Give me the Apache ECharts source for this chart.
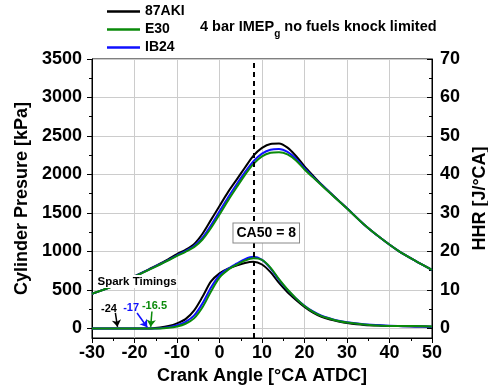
<!DOCTYPE html>
<html><head><meta charset="utf-8">
<script src="https://cdn.jsdelivr.net/npm/echarts@6/dist/echarts.min.js"></script>
<style>html,body{margin:0;padding:0;background:#fff}#c{width:488px;height:387px}</style>
</head><body><div id="c"></div>
<script>
// Crank angle [°CA ATDC]
const crank = [-30,-26,-22,-18,-16,-14,-12,-10,-8,-6,-4,-2,0,2,4,6,8,10,12,14,16,18,20,22,24,26,28,30,34,38,42,46,50];
// Cylinder pressure [kPa]
const p87AKI = [450,530,625,730,785,840,900,965,1020,1095,1230,1410,1590,1770,1930,2090,2245,2345,2397,2402,2348,2240,2105,1985,1870,1765,1662,1560,1350,1170,1010,880,760];
const pIB24  = [450,530,625,728,780,833,890,950,1005,1070,1180,1340,1520,1700,1870,2030,2172,2270,2322,2330,2293,2205,2080,1970,1865,1762,1660,1560,1350,1170,1010,880,760];
const pE30   = [450,528,622,725,777,830,885,942,995,1055,1155,1305,1480,1660,1830,1995,2138,2235,2282,2290,2262,2182,2065,1962,1860,1758,1658,1558,1350,1170,1010,880,760];
// Heat release rate [J/°CA]
const h87AKI = [0,0,0,0,0,0.2,0.6,1.3,2.4,4.6,8.2,12.2,14.3,15.5,16.3,17.0,17.3,16.6,14.6,11.8,9.4,7.4,5.6,4.1,3.0,2.3,1.8,1.4,0.9,0.7,0.6,0.5,0.4];
const hIB24  = [0,0,0,0,0,0.05,0.3,0.8,1.7,3.3,6.5,10.6,13.8,15.5,16.8,18.0,18.6,17.8,15.6,12.6,10.0,7.8,5.9,4.4,3.3,2.6,2.0,1.6,1.1,0.8,0.6,0.5,0.4];
const hE30   = [0,0,0,0,0,0,0.15,0.5,1.2,2.6,5.5,9.6,13.2,15.2,16.5,17.6,18.2,17.8,15.8,12.8,10.1,7.8,5.8,4.3,3.2,2.5,1.9,1.5,1.0,0.7,0.6,0.6,0.5];
// Axis tick labels
const xTicks = [-30,-20,-10,0,10,20,30,40,50];
const pTicks = [0,500,1000,1500,2000,2500,3000,3500];
const hTicks = [0,10,20,30,40,50,60,70];
// Annotations
const ca50 = 8;
const ca50Label = 'CA50 = 8';
const sparkNames = ['-24','-17','-16.5'];
const sparkValues = [-24,-17,-16.5];

const FONT = '"Liberation Sans", Arial, sans-serif';
const BLACK = '#000000', GREEN = '#0a8a0a', BLUE = '#1010ff';
const plain = v => String(v);

function pts(arr){ return crank.map((x,i)=>[x, arr[i]]); }
function line(name, arr, color, yIdx, extra){
  return Object.assign({
    name, type:'line', yAxisIndex:yIdx, data:pts(arr), symbol:'none', smooth:0.3,
    lineStyle:{color, width:2}, itemStyle:{color}, silent:true, z:2
  }, extra||{});
}
function txt(coord, text, color, size, extra){
  return {coord, symbol:'circle', symbolSize:1, itemStyle:{color:'rgba(0,0,0,0)'},
    label:Object.assign({show:true, position:'inside', formatter:text, color, fontSize:size,
      fontWeight:'bold', fontFamily:FONT}, extra||{})};
}

const chart = echarts.init(document.getElementById('c'), null, {renderer:'canvas'});
chart.setOption({
  animation:false,
  title:{
    text:'{m|4 bar IMEP}{sub|g}{m| no fuels knock limited}',
    left:200, top:15, padding:0,
    textStyle:{fontFamily:FONT, fontWeight:'bold', fontSize:14.5, color:'#000',
      rich:{m:{fontFamily:FONT, fontWeight:'bold', fontSize:14.5, color:'#000', lineHeight:24},
            sub:{fontFamily:FONT, fontWeight:'bold', fontSize:10, color:'#000', lineHeight:12, verticalAlign:'bottom'}}}
  },
  legend:{
    data:['87AKI','E30','IB24'], orient:'vertical', left:107, top:4, padding:0,
    icon:'rect', itemWidth:33, itemHeight:2.5, itemGap:3,
    textStyle:{fontFamily:FONT, fontWeight:'bold', fontSize:14, color:'#000', lineHeight:15}
  },
  grid:{left:92, right:56, top:59, bottom:49, show:true, borderColor:'#000', borderWidth:1,
    containLabel:false, outerBoundsMode:'none'},
  xAxis:{
    type:'value', min:-30, max:50, interval:10,
    name:'Crank Angle [°CA ATDC]', nameLocation:'middle', nameGap:26,
    nameTextStyle:{fontFamily:FONT, fontWeight:'bold', fontSize:18, color:'#000'},
    axisLine:{onZero:false, lineStyle:{color:'#000', width:1}},
    axisTick:{inside:false, length:5, lineStyle:{color:'#000'}},
    minorTick:{show:true, splitNumber:2, length:3, lineStyle:{color:'#000'}},
    axisLabel:{fontFamily:FONT, fontWeight:'bold', fontSize:18, color:'#000', margin:6,
      customValues:xTicks, formatter:plain},
    splitLine:{show:true, lineStyle:{color:'#cccccc', width:1}}
  },
  yAxis:[{
    type:'value', position:'left', min:-125, max:3500, splitNumber:7,
    name:'Cylinder Presure [kPa]', nameLocation:'middle', nameGap:58,
    nameTextStyle:{fontFamily:FONT, fontWeight:'bold', fontSize:18, color:'#000'},
    axisLine:{show:true, onZero:false, lineStyle:{color:'#000', width:1}},
    axisTick:{show:true, inside:false, length:5, customValues:pTicks, lineStyle:{color:'#000'}},
    minorTick:{show:true, splitNumber:2, length:3, lineStyle:{color:'#000'}},
    axisLabel:{fontFamily:FONT, fontWeight:'bold', fontSize:18, color:'#000', margin:10,
      customValues:pTicks, formatter:plain},
    splitLine:{show:true, lineStyle:{color:'#cccccc', width:1}}
  },{
    type:'value', position:'right', min:-2.5, max:70, splitNumber:7,
    name:'HHR [J/°CA]', nameLocation:'middle', nameGap:34,
    nameTextStyle:{fontFamily:FONT, fontWeight:'bold', fontSize:18, color:'#000'},
    axisLine:{show:true, onZero:false, lineStyle:{color:'#000', width:1}},
    axisTick:{show:true, inside:true, length:5, customValues:hTicks, lineStyle:{color:'#000'}},
    minorTick:{show:true, splitNumber:2, length:3, lineStyle:{color:'#000'}},
    axisLabel:{fontFamily:FONT, fontWeight:'bold', fontSize:18, color:'#000', margin:8,
      customValues:hTicks, formatter:plain},
    splitLine:{show:false}
  }],
  series:[
    line('87AKI', p87AKI, BLACK, 0, {
      markLine:{silent:true, symbol:['none','arrow'], symbolSize:7, label:{show:false},
        data:[
          [{coord:[-24.5,200], lineStyle:{color:BLACK,width:1.5,type:'solid'}, itemStyle:{color:BLACK}},{coord:[sparkValues[0],20]}],
          [{coord:[-19.4,200], lineStyle:{color:BLUE,width:1.5,type:'solid'}, itemStyle:{color:BLUE}},{coord:[sparkValues[1],15]}],
          [{coord:[-15.9,220], lineStyle:{color:GREEN,width:1.5,type:'solid'}, itemStyle:{color:GREEN}},{coord:[-16.2,20]}]
        ]}
    }),
    line('IB24', pIB24, BLUE, 0, {
      markLine:{silent:true, symbol:'none', label:{show:false},
        lineStyle:{color:'#000', width:2, type:[5,4]}, data:[{xAxis:ca50}]}
    }),
    line('E30', pE30, GREEN, 0),
    line('87AKI', h87AKI, BLACK, 1),
    line('IB24', hIB24, BLUE, 1),
    line('E30', hE30, GREEN, 1, {
      markPoint:{silent:true, data:[
        txt([11, 24.8], ca50Label, '#000', 14, {backgroundColor:'#fff', borderColor:'#888', borderWidth:1, padding:[3,3,2,3]}),
        txt([-19.4, 12.2], 'Spark Timings', '#000', 11.5, {backgroundColor:'#fff', padding:[1,1,0,1]}),
        txt([-26.0, 5.1], sparkNames[0], BLACK, 11),
        txt([-20.8, 5.4], sparkNames[1], BLUE, 11),
        txt([-15.3, 5.7], sparkNames[2], GREEN, 11)
      ]}
    })
  ]
});
</script>
</body></html>
